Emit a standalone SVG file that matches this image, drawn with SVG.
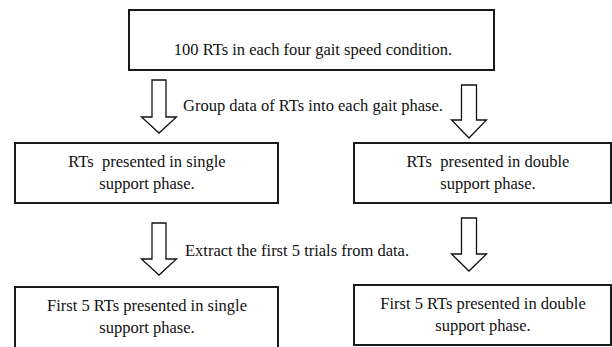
<svg xmlns="http://www.w3.org/2000/svg" width="612" height="347" viewBox="0 0 612 347">
<style>
.box{fill:#fff;stroke:#1a1a1a;stroke-width:2}
.arr{fill:#fff;stroke:#111;stroke-width:1.3;stroke-linejoin:miter}
text{font-family:"Liberation Serif","Times New Roman",serif;font-size:16.5px;fill:#111;white-space:pre}
.c{text-anchor:middle}
</style>
<rect width="612" height="347" fill="#fff"/>
<g id="connectors">
<path class="arr" d="M152,80 H166 V117 H176.5 L159,133 L141.5,117 H152 Z"/>
<path class="arr" d="M461.5,85 H476.5 V120 H486.5 L469,138 L451.5,120 H461.5 Z"/>
<path class="arr" d="M152,223 H166 V259 H176.5 L159,275 L141.5,259 H152 Z"/>
<path class="arr" d="M461.5,218 H476.5 V254 H486.5 L469,271 L451.5,254 H461.5 Z"/>
<text x="183" y="111">Group data of RTs into each gait phase.</text>
<text x="185" y="256">Extract the first 5 trials from data.</text>
</g>
<g id="n-top">
<rect class="box" x="129" y="10" width="365" height="60"/>
<text class="c" x="313" y="55">100 RTs in each four gait speed condition.</text>
</g>
<g id="n-single">
<rect class="box" x="15" y="143" width="263" height="60"/>
<text class="c" x="147" y="167">RTs  presented in single</text>
<text class="c" x="147" y="189">support phase.</text>
</g>
<g id="n-double">
<rect class="box" x="354" y="143" width="257" height="60"/>
<text class="c" x="488" y="167">RTs  presented in double</text>
<text class="c" x="488" y="189">support phase.</text>
</g>
<g id="n-first-single">
<rect class="box" x="15" y="287" width="263" height="70"/>
<text class="c" x="147" y="311">First 5 RTs presented in single</text>
<text class="c" x="147" y="333">support phase.</text>
</g>
<g id="n-first-double">
<rect class="box" x="354" y="285" width="257" height="60"/>
<text class="c" x="483" y="309">First 5 RTs presented in double</text>
<text class="c" x="483" y="331">support phase.</text>
</g>
</svg>
